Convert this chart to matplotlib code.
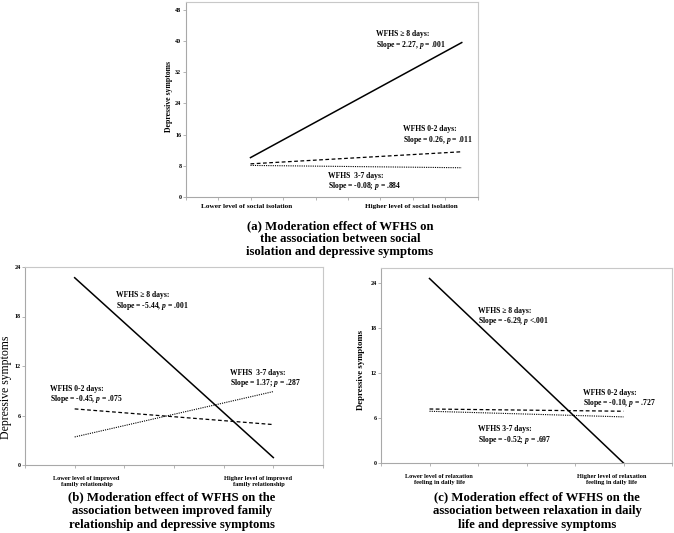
import matplotlib
matplotlib.use("Agg")
import matplotlib.pyplot as plt
import matplotlib.transforms as mtransforms

plt.rcParams['font.family'] = ['Liberation Serif', 'DejaVu Serif']
plt.rcParams['mathtext.fontset'] = 'custom'
plt.rcParams['mathtext.it'] = 'Liberation Serif:italic:bold'
plt.rcParams['mathtext.rm'] = 'Liberation Serif:bold'
plt.rcParams['mathtext.bf'] = 'Liberation Serif:bold'

# ---------------- data ----------------
# panel (a): social isolation
a_x = [2.0, 8.5]
a_ge8 = [10.1, 39.6]
a_02 = [8.5, 11.6]
a_37 = [8.1, 7.5]
a_yticks = [0, 8, 16, 24, 32, 40, 48]
a_xlabels = ["Lower level of social isolation", "Higher level of social isolation"]

# panel (b): improved family relationship
b_x = [1.0, 5.0]
b_ge8 = [22.7, 0.9]
b_02 = [6.8, 4.9]
b_37 = [3.4, 8.9]
b_yticks = [0, 6, 12, 18, 24]
b_xlabels = ["Lower level of improved\nfamily relationship",
             "Higher level of improved\nfamily relationship"]

# panel (c): relaxation feeling in daily life
c_x = [1.0, 5.0]
c_ge8 = [24.6, 0.0]
c_02 = [7.2, 6.9]
c_37 = [6.9, 6.15]
c_yticks = [0, 6, 12, 18, 24]
c_xlabels = ["Lower level of relaxation\nfeeling in daily life",
             "Higher level of relaxation\nfeeling in daily life"]

ylab = "Depressive symptoms"

W, H = 674, 533
fig = plt.figure(figsize=(W / 100, H / 100), dpi=100)


def px_axes(l, r, t, b):
    return fig.add_axes([l / W, 1 - b / H, (r - l) / W, (b - t) / H])


def style(ax, xmax, ymax, yticks):
    ax.set_xlim(0, xmax)
    ax.set_ylim(0, ymax)
    ax.set_xticks(range(0, xmax + 1))
    ax.set_xticklabels([])
    ax.set_yticks(yticks)
    ax.set_yticklabels([str(v) for v in yticks], fontsize=4.3, fontweight='bold')
    for s in ax.spines.values():
        s.set_color('#c8c8c8')
        s.set_linewidth(0.8)
    ax.spines['left'].set_color('#a8a8a8')
    ax.spines['bottom'].set_color('#a8a8a8')
    ax.tick_params(axis='both', length=2, width=0.6, color='#a8a8a8', pad=1)


def draw_lines(ax, x, ge8, d02, d37):
    ax.plot(x, ge8, color='black', lw=1.1, ls='-')
    ax.plot(x, d02, color='black', lw=0.9, ls=(0, (3, 2)))
    ax.plot(x, d37, color='black', lw=0.8, ls=(0, (1, 1)))


def ann(ax, x, y, line1, line2, fs=5.5, gap=4.7):
    up = ax.transData + mtransforms.ScaledTranslation(0, gap / 100, fig.dpi_scale_trans)
    dn = ax.transData + mtransforms.ScaledTranslation(0, -gap / 100, fig.dpi_scale_trans)
    ax.text(x, y, line1, transform=up, fontsize=fs, fontweight='bold',
            ha='left', va='center_baseline')
    ax.text(x, y, line2, transform=dn, fontsize=fs, fontweight='bold',
            ha='left', va='center_baseline')


P = "$p$"

# ---------- panel (a) ----------
axa = px_axes(185.5, 478, 2, 197)
style(axa, 9, 50, a_yticks)
draw_lines(axa, a_x, a_ge8, a_02, a_37)
ann(axa, 5.85, 40.8, "WFHS ≥ 8 days:", f"Slope = 2.27, {P} = .001")
ann(axa, 6.7, 16.4, "WFHS 0-2 days:", f"Slope = 0.26, {P} = .011")
ann(axa, 4.38, 4.5, "WFHS  3-7 days:", f"Slope = -0.08; {P} = .884")
xt = axa.get_xaxis_transform()
axa.text(1.88, -0.05, a_xlabels[0], transform=xt, ha='center', va='center',
         fontsize=5.2, fontweight='bold')
axa.text(6.94, -0.05, a_xlabels[1], transform=xt, ha='center', va='center',
         fontsize=5.2, fontweight='bold')
fig.text(169 / W, 1 - 97 / H, ylab, rotation=90, ha='center', va='center',
         fontsize=5.6, fontweight='bold')
fig.text(340 / W, 1 - 239 / H,
         "(a) Moderation effect of WFHS on\nthe association between social\nisolation and depressive symptoms",
         ha='center', va='center', fontsize=9.2, fontweight='bold', linespacing=1.12)

# ---------- panel (b) ----------
axb = px_axes(25, 323, 267, 465)
style(axb, 6, 24, b_yticks)
draw_lines(axb, b_x, b_ge8, b_02, b_37)
ann(axb, 1.83, 20.1, "WFHS ≥ 8 days:", f"Slope = -5.44, {P} = .001")
ann(axb, 4.13, 10.75, "WFHS  3-7 days:", f"Slope = 1.37; {P} = .287")
ann(axb, 0.50, 8.8, "WFHS 0-2 days:", f"Slope = -0.45, {P} = .075")
xt = axb.get_xaxis_transform()
axb.text(1.24, -0.085, b_xlabels[0], transform=xt, ha='center', va='center',
         fontsize=4.6, fontweight='bold', linespacing=1.3)
axb.text(4.7, -0.085, b_xlabels[1], transform=xt, ha='center', va='center',
         fontsize=4.6, fontweight='bold', linespacing=1.3)
fig.text(6 / W, 1 - 387 / H, ylab, rotation=90, ha='center', va='center',
         fontsize=8.5)
fig.text(172 / W, 1 - 511 / H,
         "(b) Moderation effect of WFHS on the\nassociation between improved family\nrelationship and depressive symptoms",
         ha='center', va='center', fontsize=9.2, fontweight='bold', linespacing=1.18)

# ---------- panel (c) ----------
axc = px_axes(381, 672, 268, 463)
style(axc, 6, 26, c_yticks)
draw_lines(axc, c_x, c_ge8, c_02, c_37)
ann(axc, 2.01, 19.8, "WFHS ≥ 8 days:", f"Slope = -6.29, {P} <.001")
ann(axc, 4.16, 8.9, "WFHS 0-2 days:", f"Slope = -0.10, {P} = .727")
ann(axc, 1.99, 4.0, "WFHS 3-7 days:", f"Slope = -0.52; {P} = .697")
xt = axc.get_xaxis_transform()
axc.text(1.2, -0.085, c_xlabels[0], transform=xt, ha='center', va='center',
         fontsize=4.6, fontweight='bold', linespacing=1.3)
axc.text(4.76, -0.085, c_xlabels[1], transform=xt, ha='center', va='center',
         fontsize=4.6, fontweight='bold', linespacing=1.3)
fig.text(361 / W, 1 - 370 / H, ylab, rotation=90, ha='center', va='center',
         fontsize=6.3, fontweight='bold')
fig.text(537 / W, 1 - 511 / H,
         "(c) Moderation effect of WFHS on the\nassociation between relaxation in daily\nlife and depressive symptoms",
         ha='center', va='center', fontsize=9.2, fontweight='bold', linespacing=1.18)

fig.savefig("out.png", dpi=100)
